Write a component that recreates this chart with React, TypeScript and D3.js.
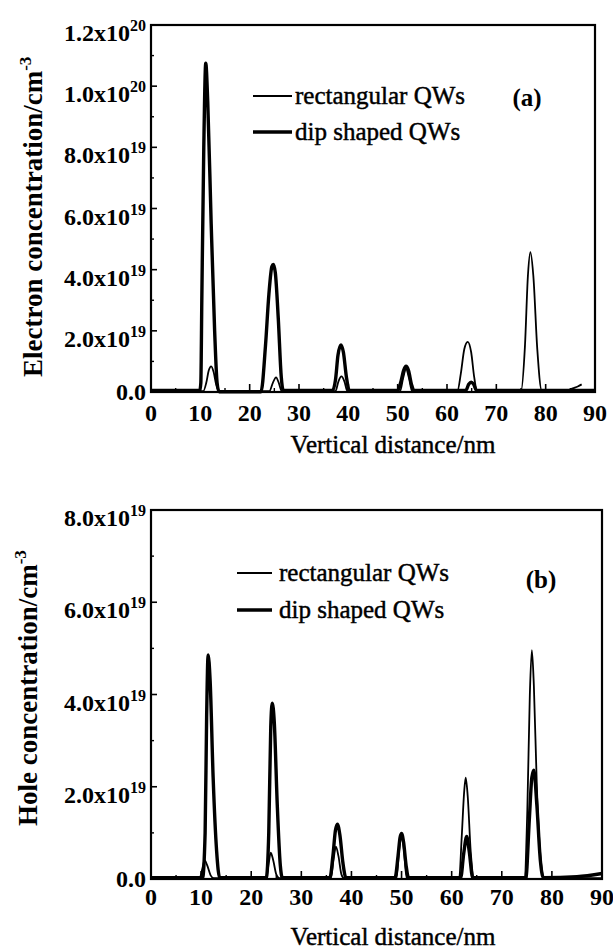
import React from "react";
import * as d3 from "d3";

// ---------- data (values in units of 1e19 cm^-3, x in nm) ----------
const electronRect: [number, number][] = [
  [0, 0.03], [10.6, 0.03], [11.2, 0.3], [11.7, 0.7], [12.2, 0.84], [12.7, 0.65], [13.2, 0.25], [13.8, 0.03],
  [24.0, 0.03], [24.7, 0.3], [25.35, 0.48], [25.9, 0.3], [26.5, 0.03],
  [37.4, 0.03], [38.0, 0.35], [38.6, 0.51], [39.2, 0.35], [39.8, 0.03],
  [50.5, 0.03], [51.1, 0.45], [51.7, 0.75], [52.3, 0.45], [52.9, 0.03],
  [62.1, 0.03], [62.8, 0.6], [63.5, 1.4], [64.2, 1.64], [64.9, 1.3], [65.5, 0.5], [66.1, 0.03],
  [75.0, 0.03], [75.8, 1.5], [76.4, 3.8], [76.9, 4.57], [77.5, 3.8], [78.3, 1.4], [79.2, 0.05],
  [84.5, 0.05], [85.5, 0.12], [86.5, 0.18], [87.3, 0.25],
];
const electronDip: [number, number][] = [
  [0, 0.05], [9.9, 0.05], [10.1, 0.3], [10.3, 3.0], [10.7, 8.0], [11.1, 10.75], [11.5, 9.5], [12.2, 5.5], [12.9, 2.0], [13.4, 0.3], [13.8, 0.01],
  [22.3, 0.01], [23.2, 1.5], [23.9, 3.2], [24.5, 4.1], [24.8, 4.17], [25.2, 3.9], [25.8, 2.4], [26.4, 0.5], [26.8, 0.05],
  [36.8, 0.05], [37.4, 0.4], [37.9, 1.2], [38.5, 1.54], [39.0, 1.3], [39.6, 0.5], [40.2, 0.05],
  [50.0, 0.05], [50.6, 0.3], [51.2, 0.7], [51.7, 0.84], [52.2, 0.7], [52.8, 0.25], [53.3, 0.05],
  [63.8, 0.05], [64.4, 0.25], [64.9, 0.32], [65.4, 0.25], [66.0, 0.05],
  [90, 0.05],
];
const holeRect: [number, number][] = [
  [0, 0.02], [9.7, 0.02], [10.3, 0.25], [10.7, 0.41], [11.2, 0.3], [11.9, 0.08], [12.5, 0.02],
  [23.0, 0.02], [23.5, 0.35], [23.9, 0.57], [24.4, 0.4], [25.0, 0.1], [25.6, 0.02],
  [35.9, 0.02], [36.4, 0.4], [36.9, 0.7], [37.4, 0.5], [38.0, 0.1], [38.5, 0.02],
  [49.0, 0.02], [49.5, 0.6], [50.0, 0.95], [50.5, 0.6], [51.0, 0.02],
  [61.5, 0.02], [62.0, 0.9], [62.5, 1.9], [62.8, 2.2], [63.2, 1.8], [63.8, 0.6], [64.5, 0.02],
  [74.5, 0.02], [75.1, 1.5], [75.6, 4.0], [76.0, 4.96], [76.4, 4.2], [77.0, 2.0], [77.8, 0.4], [78.5, 0.02],
  [90, 0.02],
];
const holeDip: [number, number][] = [
  [0, 0.03], [10.3, 0.03], [10.8, 1.0], [11.1, 3.5], [11.4, 4.86], [11.8, 4.3], [12.4, 2.2], [13.1, 0.6], [13.7, 0.03],
  [23.0, 0.03], [23.5, 1.0], [23.9, 3.3], [24.2, 3.81], [24.6, 3.4], [25.2, 1.6], [25.8, 0.3], [26.2, 0.03],
  [35.7, 0.03], [36.3, 0.5], [36.8, 1.05], [37.2, 1.19], [37.7, 0.95], [38.3, 0.35], [38.9, 0.03],
  [48.7, 0.03], [49.3, 0.5], [49.7, 0.9], [50.0, 0.99], [50.4, 0.8], [50.9, 0.3], [51.4, 0.03],
  [61.8, 0.03], [62.4, 0.55], [63.0, 0.92], [63.5, 0.6], [64.2, 0.03],
  [74.8, 0.03], [75.5, 1.3], [76.0, 2.2], [76.4, 2.36], [77.0, 1.6], [77.7, 0.4], [78.3, 0.03],
  [85, 0.05], [90, 0.12],
];

const xTickValues = [0, 10, 20, 30, 40, 50, 60, 70, 80, 90];
const xMinorValues = [5, 15, 25, 35, 45, 55, 65, 75, 85];

const yTickValuesA = [0, 2, 4, 6, 8, 10, 12];
const yTickMantA = ["0.0", "2.0x10", "4.0x10", "6.0x10", "8.0x10", "1.0x10", "1.2x10"];
const yTickExpA = ["", "19", "19", "19", "19", "20", "20"];
const yMinorA = [1, 3, 5, 7, 9, 11];

const yTickValuesB = [0, 2, 4, 6, 8];
const yTickMantB = ["0.0", "2.0x10", "4.0x10", "6.0x10", "8.0x10"];
const yTickExpB = ["", "19", "19", "19", "19"];
const yMinorB = [1, 3, 5, 7];

const legendLabels = ["rectangular QWs", "dip shaped QWs"];

const FONT = "'Liberation Serif', 'Times New Roman', serif";

type PanelProps = {
  left: number; right: number; top: number; bottom: number;
  yMax: number;
  rect: [number, number][]; dip: [number, number][];
  yVals: number[]; yMant: string[]; yExp: string[]; yMinor: number[];
  yTitle: string; yTitleX: number; yTitleStart: number;
  xTitleY: number; xLabelDy: number;
  legendX: number; legendY1: number; legendY2: number; legendTextX: number; legendEnd: number;
  tag: string; tagX: number; tagY: number;
};

function Panel(p: PanelProps) {
  const x = d3.scaleLinear().domain([0, 90]).range([p.left, p.right]);
  const y = d3.scaleLinear().domain([0, p.yMax]).range([p.bottom, p.top]);
  const line = d3.line<[number, number]>()
    .x((d) => x(d[0]))
    .y((d) => y(d[1]))
    .curve(d3.curveMonotoneX);
  const heavy = { stroke: "#000", strokeWidth: 0.45 };
  return (
    <g fontFamily={FONT} fill="#000">
      {/* curves */}
      <path d={line(p.rect) || ""} fill="none" stroke="#000" strokeWidth={1.8} strokeLinejoin="round" />
      <path d={line(p.dip) || ""} fill="none" stroke="#000" strokeWidth={3.4} strokeLinejoin="round" />
      {/* frame */}
      <rect x={p.left} y={p.top} width={p.right - p.left} height={p.bottom - p.top} fill="none" stroke="#000" strokeWidth={2.2} />
      {/* x ticks */}
      {xTickValues.map((v) => (
        <g key={"xt" + v}>
          <line x1={x(v)} x2={x(v)} y1={p.bottom} y2={p.bottom - 8} stroke="#000" strokeWidth={1.6} />
          <text x={x(v)} y={p.bottom + p.xLabelDy} textAnchor="middle" fontSize={24} fontWeight="bold">{v}</text>
        </g>
      ))}
      {xMinorValues.map((v) => (
        <line key={"xm" + v} x1={x(v)} x2={x(v)} y1={p.bottom} y2={p.bottom - 4} stroke="#000" strokeWidth={1.4} />
      ))}
      {/* y ticks */}
      {p.yVals.map((v, i) => (
        <g key={"yt" + v}>
          <line x1={p.left} x2={p.left + 6} y1={y(v)} y2={y(v)} stroke="#000" strokeWidth={1.6} />
          {p.yExp[i] ? (
            <text x={146} y={y(v) + 16} textAnchor="end" fontSize={24} fontWeight="bold">
              {p.yMant[i]}
              <tspan fontSize={16} dy={-10}>{p.yExp[i]}</tspan>
            </text>
          ) : (
            <text x={146} y={y(v) + 8} textAnchor="end" fontSize={24} fontWeight="bold">{p.yMant[i]}</text>
          )}
        </g>
      ))}
      {p.yMinor.map((v) => (
        <line key={"ym" + v} x1={p.left} x2={p.left + 3} y1={y(v)} y2={y(v)} stroke="#000" strokeWidth={1.4} />
      ))}
      {/* axis titles */}
      <text x={393} y={p.xTitleY} textAnchor="middle" fontSize={25} {...heavy}>Vertical distance/nm</text>
      <text transform={`translate(${p.yTitleX},${p.yTitleStart}) rotate(-90)`} textAnchor="start" fontSize={27} fontWeight="bold">
        {p.yTitle}
        <tspan fontSize={17} dy={-11}>-3</tspan>
      </text>
      {/* legend */}
      <line x1={p.legendX} x2={p.legendEnd} y1={p.legendY1} y2={p.legendY1} stroke="#000" strokeWidth={2} />
      <line x1={p.legendX} x2={p.legendEnd} y1={p.legendY2} y2={p.legendY2} stroke="#000" strokeWidth={3.6} />
      <text x={p.legendTextX} y={p.legendY1 + 8} fontSize={25} {...heavy}>{legendLabels[0]}</text>
      <text x={p.legendTextX} y={p.legendY2 + 8} fontSize={25} {...heavy}>{legendLabels[1]}</text>
      <text x={p.tagX} y={p.tagY} textAnchor="middle" fontSize={25} fontWeight="bold">{p.tag}</text>
    </g>
  );
}

export default function App() {
  return (
    <svg width={613} height={950} style={{ position: "absolute", left: 0, top: 0, background: "#fff" }}>
      <rect x={0} y={0} width={613} height={950} fill="#fff" />
      <Panel
        left={151} right={595} top={25} bottom={392} yMax={12}
        rect={electronRect} dip={electronDip}
        yVals={yTickValuesA} yMant={yTickMantA} yExp={yTickExpA} yMinor={yMinorA}
        yTitle="Electron concentration/cm" yTitleX={42} yTitleStart={377}
        xTitleY={453} xLabelDy={29}
        legendX={253} legendEnd={292} legendY1={96} legendY2={132} legendTextX={295}
        tag="(a)" tagX={527} tagY={106}
      />
      <Panel
        left={151} right={602} top={510} bottom={879} yMax={8}
        rect={holeRect} dip={holeDip}
        yVals={yTickValuesB} yMant={yTickMantB} yExp={yTickExpB} yMinor={yMinorB}
        yTitle="Hole concentration/cm" yTitleX={37} yTitleStart={826}
        xTitleY={945} xLabelDy={26}
        legendX={237} legendEnd={272} legendY1={573} legendY2={610} legendTextX={279}
        tag="(b)" tagX={541} tagY={588}
      />
    </svg>
  );
}
